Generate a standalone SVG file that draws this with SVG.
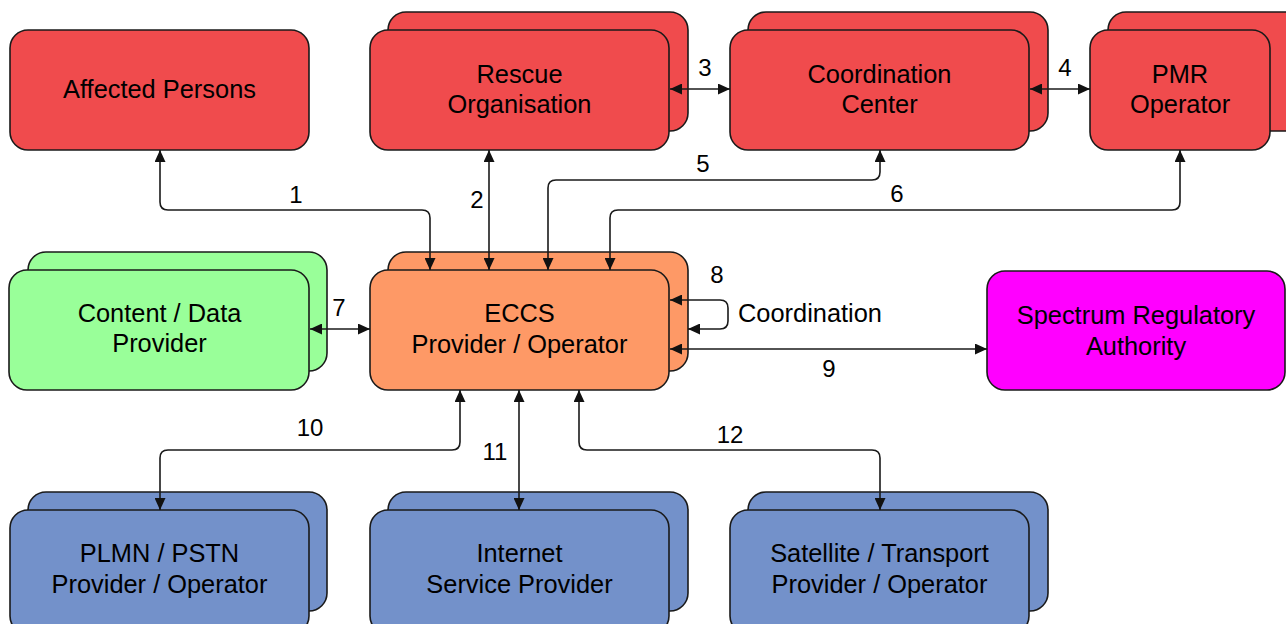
<svg xmlns="http://www.w3.org/2000/svg" width="1286" height="624" viewBox="0 0 1286 624">
  <style>
    .box { stroke: #1a1a1a; stroke-width: 1.6; }
    .red { fill: #F04B4D; }
    .orange { fill: #FE9966; }
    .green { fill: #99FF99; }
    .blue { fill: #7391CA; }
    .magenta { fill: #FF00FF; }
    text { font-family: "Liberation Sans", Arial, sans-serif; font-size: 25.4px; fill: #000; }
    .lbl { text-anchor: middle; }
    .num { text-anchor: middle; font-size: 24px; }
    .link { fill: none; stroke: #1a1a1a; stroke-width: 1.6; marker-start: url(#arrow); marker-end: url(#arrow); }
  </style>
  <defs>
    <marker id="arrow" viewBox="0 0 12 11" refX="12" refY="5.5" markerWidth="12" markerHeight="11" markerUnits="userSpaceOnUse" orient="auto-start-reverse">
      <path d="M0,0 L12,5.5 L0,11 z" fill="#111"/>
    </marker>
  </defs>
  <rect width="1286" height="624" fill="#fff"/>

  <g id="affected-persons">
    <rect class="box red" x="10" y="30" width="299" height="120" rx="18"/>
    <text class="lbl" x="159.5" y="98">Affected Persons</text>
  </g>

  <g id="rescue-organisation">
    <rect class="box red" x="388" y="12" width="300" height="119" rx="18"/>
    <rect class="box red" x="370" y="30" width="299" height="120" rx="18"/>
    <text class="lbl" x="519.5" y="83">Rescue</text>
    <text class="lbl" x="519.5" y="113">Organisation</text>
  </g>

  <g id="coordination-center">
    <rect class="box red" x="748" y="12" width="300" height="119" rx="18"/>
    <rect class="box red" x="730" y="30" width="299" height="120" rx="18"/>
    <text class="lbl" x="879.5" y="83">Coordination</text>
    <text class="lbl" x="879.5" y="113">Center</text>
  </g>

  <g id="pmr-operator">
    <rect class="box red" x="1108" y="12" width="200" height="119" rx="18"/>
    <rect class="box red" x="1090" y="30" width="180" height="120" rx="18"/>
    <text class="lbl" x="1180" y="83">PMR</text>
    <text class="lbl" x="1180" y="113">Operator</text>
  </g>

  <g id="content-data-provider">
    <rect class="box green" x="28" y="252" width="299" height="119" rx="18"/>
    <rect class="box green" x="9" y="270" width="300" height="120" rx="18"/>
    <text class="lbl" x="159.5" y="322">Content / Data</text>
    <text class="lbl" x="159.5" y="352">Provider</text>
  </g>

  <g id="eccs-provider">
    <rect class="box orange" x="388" y="252" width="300" height="119" rx="18"/>
    <rect class="box orange" x="370" y="270" width="299" height="120" rx="18"/>
    <text class="lbl" x="519.5" y="322">ECCS</text>
    <text class="lbl" x="519.5" y="353">Provider / Operator</text>
  </g>

  <g id="spectrum-regulatory-authority">
    <rect class="box magenta" x="987" y="271" width="298" height="119" rx="18"/>
    <text class="lbl" x="1136" y="324">Spectrum Regulatory</text>
    <text class="lbl" x="1136" y="355">Authority</text>
  </g>

  <g id="plmn-pstn">
    <rect class="box blue" x="28" y="492" width="299" height="119" rx="18"/>
    <rect class="box blue" x="10" y="510" width="299" height="124" rx="18"/>
    <text class="lbl" x="159.5" y="562">PLMN / PSTN</text>
    <text class="lbl" x="159.5" y="593">Provider / Operator</text>
  </g>

  <g id="internet-service-provider">
    <rect class="box blue" x="388" y="492" width="300" height="119" rx="18"/>
    <rect class="box blue" x="370" y="510" width="299" height="124" rx="18"/>
    <text class="lbl" x="519.5" y="562">Internet</text>
    <text class="lbl" x="519.5" y="593">Service Provider</text>
  </g>

  <g id="satellite-transport">
    <rect class="box blue" x="748" y="492" width="300" height="119" rx="18"/>
    <rect class="box blue" x="730" y="510" width="299" height="124" rx="18"/>
    <text class="lbl" x="879.5" y="562">Satellite / Transport</text>
    <text class="lbl" x="879.5" y="593">Provider / Operator</text>
  </g>

  <g id="connectors">
    <!-- 1 -->
    <path class="link" d="M160,150 V202 Q160,210 168,210 H422 Q430,210 430,218 V270"/>
    <text class="num" x="296" y="203">1</text>
    <!-- 2 -->
    <path class="link" d="M489,150 V270"/>
    <text class="num" x="477" y="208">2</text>
    <!-- 3 -->
    <path class="link" d="M670,89 H730"/>
    <text class="num" x="705" y="76">3</text>
    <!-- 4 -->
    <path class="link" d="M1030,89 H1090"/>
    <text class="num" x="1065" y="76">4</text>
    <!-- 5 -->
    <path class="link" d="M880,150 V172 Q880,180 872,180 H556 Q548,180 548,188 V270"/>
    <text class="num" x="703" y="172">5</text>
    <!-- 6 -->
    <path class="link" d="M1180,150 V202 Q1180,210 1172,210 H618 Q610,210 610,218 V270"/>
    <text class="num" x="897" y="202">6</text>
    <!-- 7 -->
    <path class="link" d="M310,329 H370"/>
    <text class="num" x="339" y="316">7</text>
    <!-- 8: self loop -->
    <path class="link" d="M670,300 H720 Q728,300 728,308 V321 Q728,329 720,329 H688"/>
    <text class="num" x="717" y="283">8</text>
    <text x="738" y="322">Coordination</text>
    <!-- 9 -->
    <path class="link" d="M670,349 H987"/>
    <text class="num" x="829" y="377">9</text>
    <!-- 10 -->
    <path class="link" d="M460,390 V442 Q460,450 452,450 H168 Q160,450 160,458 V510"/>
    <text class="num" x="310" y="436">10</text>
    <!-- 11 -->
    <path class="link" d="M519,390 V510"/>
    <text class="num" x="495" y="460">11</text>
    <!-- 12 -->
    <path class="link" d="M579,390 V442 Q579,450 587,450 H872 Q880,450 880,458 V510"/>
    <text class="num" x="730" y="443">12</text>
  </g>
</svg>
